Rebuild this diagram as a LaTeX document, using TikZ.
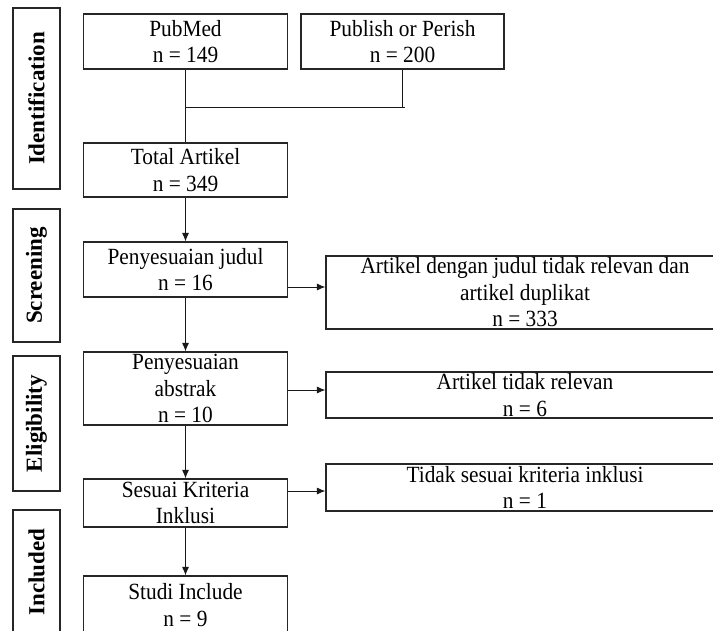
\documentclass[tikz,border=0pt]{standalone}
\usepackage{fontspec}
\setmainfont{Liberation Serif}
\newfontfamily\bodyfont[FakeStretch=0.92]{Liberation Serif}
\usetikzlibrary{arrows.meta}
\begin{document}
\begin{tikzpicture}[x=1pt,y=-1pt,
  box/.style={draw=black!85, line width=1.1pt, rectangle, inner sep=0pt, align=center,
    font=\bodyfont\fontsize{23.2}{26.5}\selectfont},
  phase/.style={draw=black!85, line width=1.1pt, rectangle, inner sep=0pt, rotate=90,
    font=\bfseries\fontsize{23}{27}\selectfont},
  conn/.style={draw=black!90, line width=1pt},
  arr/.style={conn, -{Latex[length=8.5pt,width=7pt]}}]
\clip (0,0) rectangle (713,630);
\fill[white] (0,0) rectangle (713,630);
% phase labels
\node[phase, minimum width=181pt, minimum height=47pt] (ident) at (36.5,98.5) {Identification};
\node[phase, minimum width=133pt, minimum height=47pt] (screen) at (36.5,275.5) {Screening};
\node[phase, minimum width=135pt, minimum height=47pt] (elig) at (36.5,423.5) {Eligibility};
\node[phase, minimum width=124pt, minimum height=47pt] (incl) at (36.5,572) {Included};
% main column
\node[box, minimum width=204pt, minimum height=55pt] (pubmed) at (185.5,41.5) {PubMed\\n = 149};
\node[box, minimum width=203pt, minimum height=55pt] (pop) at (402.5,41.5) {Publish or Perish\\n = 200};
\node[box, minimum width=204pt, minimum height=54pt] (total) at (185.5,170) {Total Artikel\\n = 349};
\node[box, minimum width=204pt, minimum height=55pt] (judul) at (185.5,269.5) {Penyesuaian judul\\n = 16};
\node[box, minimum width=204pt, minimum height=73pt] (abstrak) at (185.5,388.5) {Penyesuaian\\abstrak\\n = 10};
\node[box, minimum width=204pt, minimum height=48pt] (sesuai) at (185.5,503) {Sesuai Kriteria\\Inklusi};
\node[box, minimum width=204pt, minimum height=58pt] (studi) at (185.5,605) {Studi Include\\n = 9};
% right column
\node[box, minimum width=398pt, minimum height=73pt] (r1) at (525,292.5) {Artikel dengan judul tidak relevan dan\\artikel duplikat\\n = 333};
\node[box, minimum width=398pt, minimum height=46pt] (r2) at (525,395) {Artikel tidak relevan\\n = 6};
\node[box, minimum width=398pt, minimum height=47pt] (r3) at (525,487.5) {Tidak sesuai kriteria inklusi\\n = 1};
% junction
\coordinate (j) at (185.5,107);
\coordinate (jr) at (405,107);
\coordinate (a1) at (0,287);
\coordinate (a2) at (0,390);
\coordinate (a3) at (0,491);
% connectors
\draw[conn] (pubmed.south) -- (total.north);
\draw[conn] (pop.south) -- (pop.south |- jr);
\draw[conn] (j) -- (jr);
\draw[arr] (total.south) -- (judul.north);
\draw[arr] (judul.south) -- (abstrak.north);
\draw[arr] (abstrak.south) -- (sesuai.north);
\draw[arr] (sesuai.south) -- (studi.north);
\draw[arr] (judul.east |- a1) -- (r1.west |- a1);
\draw[arr] (abstrak.east |- a2) -- (r2.west |- a2);
\draw[arr] (sesuai.east |- a3) -- (r3.west |- a3);
\end{tikzpicture}
\end{document}
